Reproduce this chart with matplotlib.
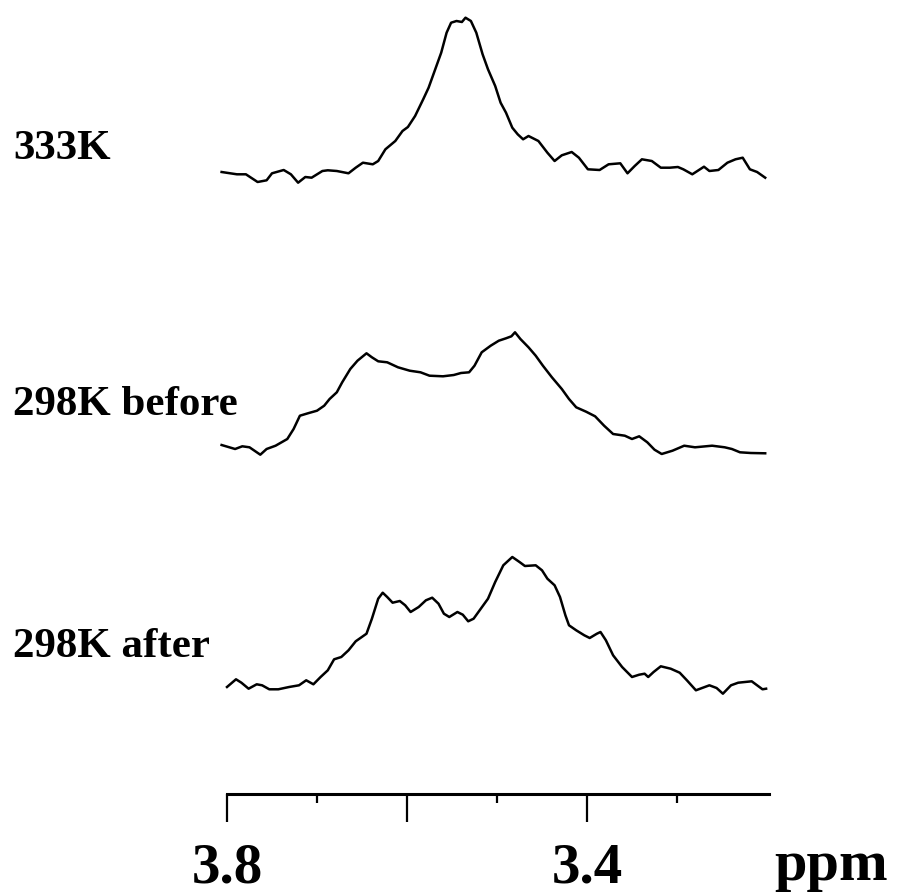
import matplotlib.pyplot as plt
import numpy as np
from matplotlib.ticker import FixedLocator, NullFormatter

# chemical shift (ppm) and intensity (arb. units)
ppm_333 = [3.806, 3.789, 3.779, 3.766, 3.756, 3.750, 3.737, 3.729, 3.721, 3.713,
           3.706, 3.694, 3.688, 3.678, 3.665, 3.657, 3.649, 3.638, 3.632, 3.624,
           3.613, 3.605, 3.599, 3.591, 3.582, 3.576, 3.570, 3.562, 3.556, 3.551,
           3.545, 3.539, 3.535, 3.529, 3.523, 3.516, 3.510, 3.502, 3.496, 3.490,
           3.483, 3.477, 3.471, 3.465, 3.454, 3.444, 3.436, 3.428, 3.417, 3.409,
           3.399, 3.386, 3.376, 3.363, 3.355, 3.347, 3.339, 3.328, 3.318, 3.308,
           3.299, 3.293, 3.283, 3.270, 3.264, 3.254, 3.244, 3.235, 3.227, 3.219,
           3.211, 3.202]
int_333 = [0, -2.3, -2.3, -10, -8.3, -1.3, 2, -2.3, -10.7, -5,
           -5.7, 1, 1.7, 1, -1.3, 4.3, 9.3, 7.7, 11, 22.7,
           31, 41, 45, 56, 72.7, 84.3, 99.3, 119.3, 139.3, 149.3,
           151, 150, 154.3, 151, 139.3, 117.7, 102.7, 86, 69.3, 59.3,
           44.3, 37.7, 32.7, 36, 31, 19.3, 11, 16.7, 20, 14.3,
           2.7, 2, 7.7, 8.7, -1.3, 6, 12.7, 11, 4.3, 4.3,
           5, 2.7, -2.3, 5.3, 1, 2, 9.3, 12.7, 14.3, 2.7,
           0, -5.7]

ppm_before = [3.806, 3.791, 3.783, 3.775, 3.763, 3.756, 3.746, 3.733, 3.726, 3.719,
              3.709, 3.700, 3.692, 3.686, 3.678, 3.672, 3.663, 3.655, 3.645, 3.639,
              3.632, 3.622, 3.610, 3.597, 3.585, 3.575, 3.560, 3.548, 3.540, 3.531,
              3.525, 3.517, 3.507, 3.498, 3.490, 3.484, 3.480, 3.474, 3.465, 3.457,
              3.449, 3.439, 3.428, 3.420, 3.412, 3.401, 3.391, 3.381, 3.371, 3.358,
              3.350, 3.342, 3.333, 3.325, 3.317, 3.305, 3.292, 3.280, 3.261, 3.247,
              3.239, 3.230, 3.218, 3.202]
int_before = [0, -4, -1.3, -2.3, -9.7, -4, -0.7, 6, 16, 29.3,
              32, 34.3, 39.3, 46, 52.7, 62.7, 76, 84.3, 91.7, 87.7,
              83.7, 82.7, 77.7, 74.3, 72.7, 69.3, 68.7, 70, 72, 72.7,
              79.3, 92.7, 99.3, 104.3, 106.7, 108.7, 112.7, 106, 97.7, 89.3,
              79.3, 67.7, 56, 46, 37.7, 33.3, 28.7, 19.3, 11, 9.3,
              6, 8.7, 2.7, -4.7, -9, -5.7, -0.7, -2.3, -0.7, -2.3,
              -4, -7.3, -8, -8.3]

ppm_after = [3.800, 3.790, 3.784, 3.776, 3.767, 3.761, 3.753, 3.743, 3.731, 3.720,
             3.712, 3.704, 3.696, 3.688, 3.681, 3.673, 3.665, 3.657, 3.645, 3.639,
             3.632, 3.627, 3.622, 3.616, 3.608, 3.602, 3.596, 3.587, 3.579, 3.572,
             3.565, 3.559, 3.553, 3.544, 3.538, 3.532, 3.526, 3.518, 3.510, 3.502,
             3.493, 3.483, 3.475, 3.469, 3.457, 3.450, 3.444, 3.436, 3.430, 3.424,
             3.420, 3.412, 3.403, 3.397, 3.389, 3.385, 3.379, 3.371, 3.361, 3.350,
             3.342, 3.336, 3.332, 3.326, 3.318, 3.307, 3.297, 3.289, 3.279, 3.264,
             3.256, 3.249, 3.240, 3.232, 3.217, 3.211, 3.205, 3.201]
int_after = [0, 7.7, 4.3, -1.7, 2.7, 1.7, -2.3, -2.3, 0, 1.7,
             6.7, 2.7, 10, 16.7, 27.7, 30, 36.7, 45.7, 53.3, 68.3,
             88.3, 94.3, 90, 84.3, 86, 81.7, 75, 80, 86.7, 89.3,
             83.3, 73.3, 70, 75, 72.3, 65.7, 68.3, 78.3, 88.3, 105,
             121.7, 130, 125, 121, 121.7, 116.7, 108.3, 101.7, 90, 71.7,
             61.7, 56.7, 51.7, 49, 53.3, 55, 46.7, 31.7, 20, 10,
             12.3, 13.3, 10, 15, 20.7, 18.3, 14.3, 6.7, -3.3, 1.7,
             -1, -6.7, 1.7, 4.3, 5.7, 1.7, -2.3, -1.7]

labels = ['333K', '298K before', '298K after']
major_ticks = [3.8, 3.6, 3.4]
minor_ticks = [3.7, 3.5, 3.3]
tick_text = ['3.8', '3.4']

# vertical stacking of the spectra (in px units)
offsets = [722, 449, 207]

W, H = 898, 895
fig = plt.figure(figsize=(W / 100, H / 100), dpi=100)
ax = fig.add_axes([0, 0, 1, 1])
ax.set_xlim(3.8 + 227 / 900, 3.8 - (W - 227) / 900)
ax.set_ylim(0, H)

series = [(ppm_333, int_333), (ppm_before, int_before), (ppm_after, int_after)]
for (x, y), off in zip(series, offsets):
    ax.plot(x, np.array(y) + off, color='black', lw=1.8)

font = {'family': 'Liberation Serif', 'weight': 'bold'}
label_base = [159, 415, 657]
for lab, yb in zip(labels, label_base):
    fig.text(13 / W, 1 - yb / H, lab, fontsize=31, va='baseline', ha='left', **font)

for s in ['top', 'left', 'right']:
    ax.spines[s].set_visible(False)
ax.spines['bottom'].set_position(('data', H - 795))
ax.spines['bottom'].set_bounds(3.198, 3.8)
ax.spines['bottom'].set_linewidth(2.2)
ax.xaxis.set_major_locator(FixedLocator(major_ticks))
ax.xaxis.set_minor_locator(FixedLocator(minor_ticks))
ax.xaxis.set_major_formatter(NullFormatter())
ax.tick_params(axis='x', which='major', direction='out', length=20, width=1.6)
ax.tick_params(axis='x', which='minor', direction='out', length=6.5, width=1.6)
ax.set_yticks([])

for t, xv in zip(tick_text, [3.8, 3.4]):
    ax.text(xv, H - 883, t, fontsize=41, ha='center', va='baseline', **font)
fig.text(774 / W, 1 - 880 / H, 'ppm', fontsize=42, ha='left', va='baseline', **font)

fig.savefig('out.png', dpi=100)
